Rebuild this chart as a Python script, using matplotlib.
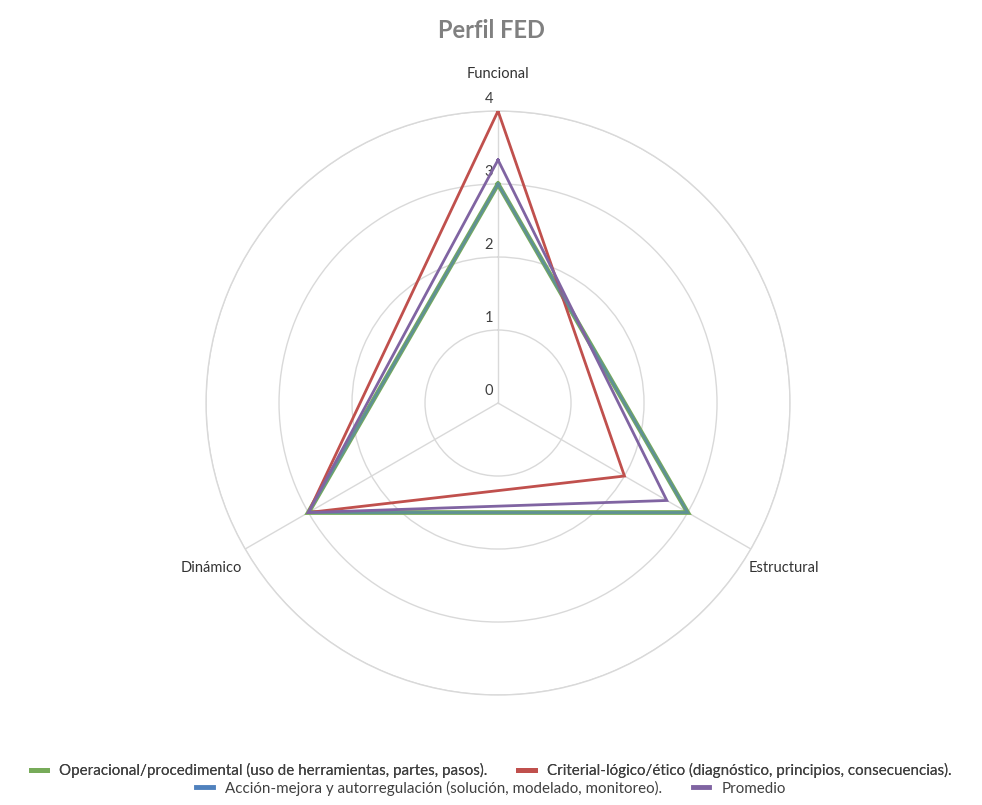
import numpy as np
import matplotlib
matplotlib.use("Agg")
import matplotlib.pyplot as plt
from matplotlib.lines import Line2D

# datos del perfil FED
ejes = ['Funcional', 'Estructural', 'Dinámico']
operacional = [3, 3, 3]
criterial = [4, 2, 3]
accion = [3, 3, 3]
promedio = [3.33, 2.67, 3]
series = ['Operacional/procedimental (uso de herramientas, partes, pasos).',
          'Criterial-lógico/ético (diagnóstico, principios, consecuencias).',
          'Acción-mejora y autorregulación (solución, modelado, monitoreo).',
          'Promedio']
ticks = [0, 1, 2, 3, 4]

colores = ['#77AB59', '#C0504D', '#4F81BD', '#8064A2']
grosor = [3.4, 2.0, 2.0, 2.0]
alfas = [1.0, 1.0, 0.6, 1.0]

plt.rcParams['font.family'] = ['Lato', 'DejaVu Sans']

fig = plt.figure(figsize=(9.82, 8.05), dpi=100)
ax = fig.add_axes([0.2098, 0.1366, 0.5947, 0.7255], polar=True)
ax.set_theta_zero_location('N')
ax.set_theta_direction(-1)

ang = np.deg2rad([0, 120, 240])
ang_c = np.append(ang, ang[0])

datos = [operacional, criterial, accion, promedio]
for i, d in enumerate(datos):
    v = np.append(d, d[0])
    ax.plot(ang_c, v, color=colores[i], lw=grosor[i], alpha=alfas[i],
            solid_joinstyle='miter', zorder=3 + i)

ax.set_ylim(0, 4)
ax.set_yticks(ticks[1:])
ax.set_yticklabels([])
ax.set_xticks(ang)
ax.set_xticklabels([])
ax.grid(True, color='#d9d9d9', lw=1.0)
ax.spines['polar'].set_color('#d9d9d9')
ax.spines['polar'].set_linewidth(1.0)

for t in ticks:
    ax.annotate(str(t), xy=(0, t), xytext=(-9, 12), textcoords='offset pixels',
                ha='center', va='center', fontsize=10.5, color='#404040')

offs = [(0, 37), (33, -19), (-34, -19)]
for a, nombre, o in zip(ang, ejes, offs):
    ax.annotate(nombre, xy=(a, 4), xytext=o, textcoords='offset pixels',
                ha='center', va='center', fontsize=10.5, color='#333333',
                annotation_clip=False)

fig.text(0.5, 0.962, 'Perfil FED', ha='center', va='center', fontsize=17,
         fontweight='bold', color='#808080')

def h(c):
    return Line2D([0], [0], color=c, lw=3.5)

leg1 = fig.legend([h(colores[0]), h(colores[1])], [series[0], series[1]], ncol=2,
                  loc='center', bbox_to_anchor=(0.5, 0.043), frameon=False,
                  fontsize=10.9, handlelength=1.1, handletextpad=0.8, columnspacing=2.0,
                  labelcolor='#404040')
fig.add_artist(leg1)
fig.legend([h(colores[2]), h(colores[3])], [series[2], series[3]], ncol=2,
           loc='center', bbox_to_anchor=(0.5, 0.021), frameon=False,
           fontsize=10.9, handlelength=1.1, handletextpad=0.8, columnspacing=2.0,
           labelcolor='#404040')

fig.savefig('out.png', dpi=100)
